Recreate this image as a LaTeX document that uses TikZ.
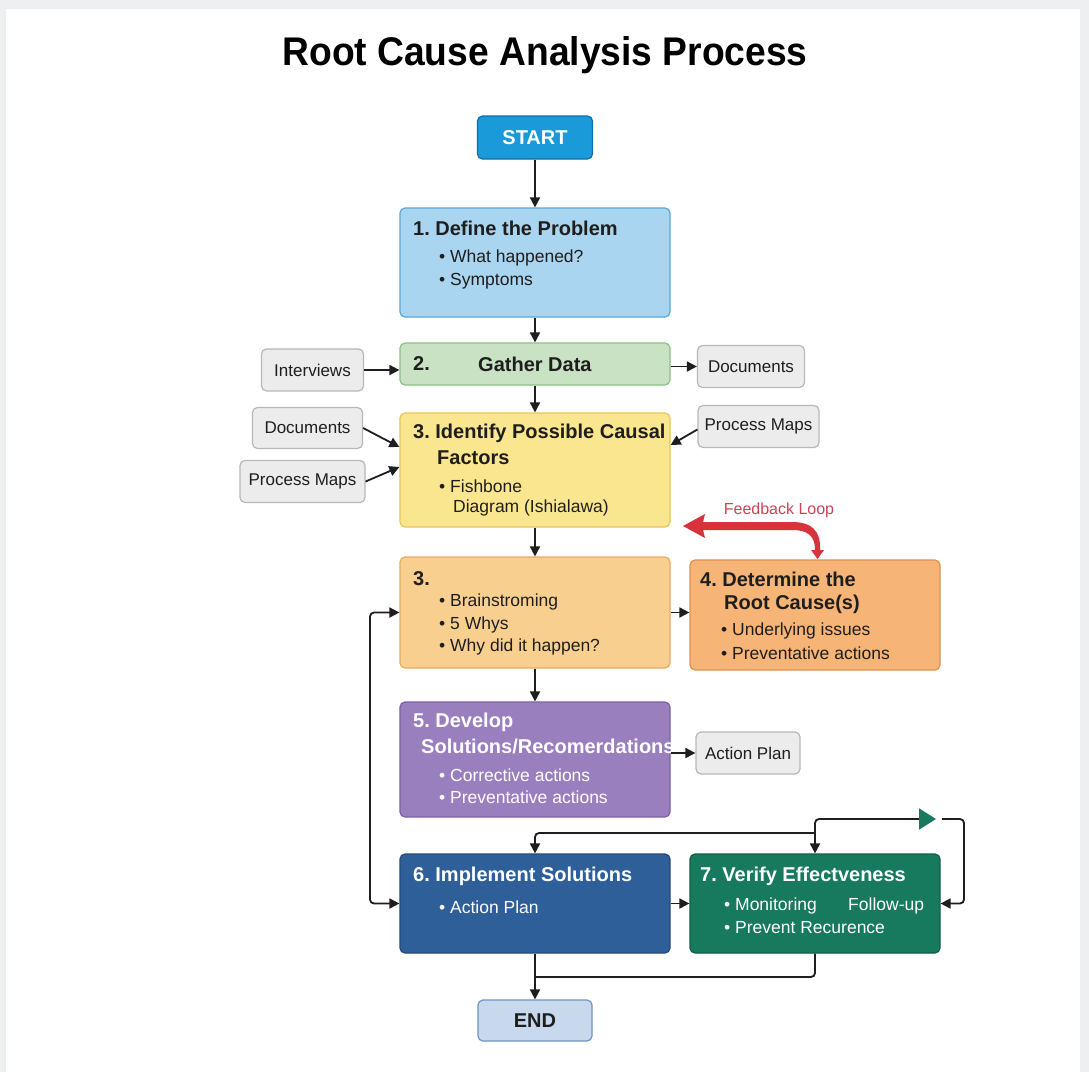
\documentclass[tikz,border=0pt]{standalone}
\usepackage{graphicx}
\usepackage{fontspec}
\setmainfont{Liberation Sans}
\usetikzlibrary{arrows.meta,calc}
\frenchspacing
\definecolor{bgray}{HTML}{EEEFF0}
\definecolor{ink}{HTML}{1E1E1E}
\definecolor{startf}{HTML}{1A9AD9}\definecolor{startd}{HTML}{0E6FA6}
\definecolor{c1f}{HTML}{A9D5F0}\definecolor{c1d}{HTML}{5BA7D8}
\definecolor{c2f}{HTML}{C8E2C3}\definecolor{c2d}{HTML}{8FBF8A}
\definecolor{c3f}{HTML}{FBE690}\definecolor{c3d}{HTML}{E6C65A}
\definecolor{c3bf}{HTML}{F9CF90}\definecolor{c3bd}{HTML}{E8AB5E}
\definecolor{c4f}{HTML}{F6B577}\definecolor{c4d}{HTML}{DF914E}
\definecolor{c5f}{HTML}{9A7FBF}\definecolor{c5d}{HTML}{7C5FA6}
\definecolor{c6f}{HTML}{2F5F99}\definecolor{c6d}{HTML}{23497A}
\definecolor{c7f}{HTML}{177A5E}\definecolor{c7d}{HTML}{0F5E47}
\definecolor{endf}{HTML}{C9D9ED}\definecolor{endd}{HTML}{6F94C4}
\definecolor{grayf}{HTML}{ECECEC}\definecolor{grayd}{HTML}{B8B8B8}
\definecolor{fbred}{HTML}{D8333B}\definecolor{fbtext}{HTML}{CC4455}
\tikzset{
  box/.style={draw, line width=1.2pt, rounded corners=5pt, inner sep=0pt},
  sidebox/.style={box, fill=grayf, draw=grayd, minimum height=42pt, font=\fontsize{17}{17}\selectfont, text=ink},
  ttl/.style={anchor=west, inner sep=0pt, font=\bfseries\fontsize{20}{20}\selectfont, text=ink},
  bul/.style={anchor=west, inner sep=0pt, font=\fontsize{17.5}{17.5}\selectfont, text=ink},
  tip/.style={Triangle[length=10pt,width=10pt]},
  conn/.style={draw=ink, line width=1.8pt, -{Triangle[length=10pt,width=10pt]}},
  plain/.style={draw=ink, line width=1.8pt}
}
\begin{document}
\begin{tikzpicture}[x=1pt,y=-1pt]
\fill[bgray] (0,0) rectangle (1089,1072);
\fill[white] (6,9) rectangle (1080,1072);
\useasboundingbox (0,0) rectangle (1089,1072);

\node[inner sep=0pt, text=black] (title) at (545,55) {\scalebox{0.93}[1]{\fontsize{40}{40}\selectfont\bfseries Root Cause Analysis Process}};

% main boxes
\node[box, fill=startf, draw=startd, minimum width=115pt, minimum height=43pt, text=white, font=\bfseries\fontsize{20}{20}\selectfont] (start) at (535,137.5) {START};
\node[box, fill=c1f, draw=c1d, minimum width=270pt, minimum height=109pt] (b1) at (535,262.5) {};
\node[box, fill=c2f, draw=c2d, minimum width=270pt, minimum height=42pt] (b2) at (535,364) {};
\node[box, fill=c3f, draw=c3d, minimum width=270pt, minimum height=114pt] (b3) at (535,470) {};
\node[box, fill=c3bf, draw=c3bd, minimum width=270pt, minimum height=111pt] (b3b) at (535,612.5) {};
\node[box, fill=c4f, draw=c4d, minimum width=250pt, minimum height=110pt] (b4) at (815,615) {};
\node[box, fill=c5f, draw=c5d, minimum width=270pt, minimum height=115pt] (b5) at (535,759.5) {};
\node[box, fill=c6f, draw=c6d, minimum width=270pt, minimum height=99pt] (b6) at (535,903.5) {};
\node[box, fill=c7f, draw=c7d, minimum width=250pt, minimum height=99pt] (b7) at (815,903.5) {};
\node[box, fill=endf, draw=endd, minimum width=114pt, minimum height=41pt, text=ink, font=\bfseries\fontsize{20}{20}\selectfont] (end) at (535,1020.5) {END};

% side boxes
\node[sidebox, minimum width=102pt] (int) at (312.5,370) {Interviews};
\node[sidebox, minimum width=107pt] (docR) at (751,366.5) {Documents};
\node[sidebox, minimum width=110pt, minimum height=41pt] (docL) at (307.5,428) {Documents};
\node[sidebox, minimum width=125pt] (pmL) at (302.5,481.5) {Process Maps};
\node[sidebox, minimum width=121pt] (pmR) at (758.5,426.5) {Process Maps};
\node[sidebox, minimum width=104pt] (ap) at (748,753) {Action Plan};

% texts
\node[ttl] (t1) at (413,228) {1. Define the Problem};
\node[bul] (t1a) at (439,258) {• What happened?};
\node[bul] (t1b) at (439,281) {• Symptoms};

\node[ttl] (t2a) at (413,364) {2.};
\node[ttl] (t2b) at (478,364) {Gather Data};

\node[ttl] (t3) at (413,433) {3. Identify Possible Causal};
\node[ttl] (t3b) at (437,458) {Factors};
\node[bul] (t3c) at (439,486) {• Fishbone};
\node[bul] (t3d) at (453,508) {Diagram (Ishialawa)};

\node[ttl] (t3x) at (413,579) {3.};
\node[bul] (t3xa) at (439,602) {• Brainstroming};
\node[bul] (t3xb) at (439,625) {• 5 Whys};
\node[bul] (t3xc) at (439,647) {• Why did it happen?};

\node[ttl] (t4) at (700,579) {4. Determine the};
\node[ttl] (t4b) at (724,604) {Root Cause(s)};
\node[bul] (t4c) at (721,631) {• Underlying issues};
\node[bul] (t4d) at (721,653) {• Preventative actions};

\node[ttl, text=white] (t5) at (413,722) {5. Develop};
\node[ttl, text=white] (t5b) at (421,746) {Solutions/Recomerdations};
\node[bul, text=white] (t5c) at (439,775) {• Corrective actions};
\node[bul, text=white] (t5d) at (439,797) {• Preventative actions};

\node[ttl, text=white] (t6) at (413,876) {6. Implement Solutions};
\node[bul, text=white] (t6b) at (439,907) {• Action Plan};

\node[ttl, text=white] (t7) at (700,876) {7. Verify Effectveness};
\node[bul, text=white] (t7b) at (724,906) {• Monitoring};
\node[bul, text=white] (t7c) at (848,906) {Follow-up};
\node[bul, text=white] (t7d) at (724,928) {• Prevent Recurence};

% main spine
\draw[conn] (start.south) -- (b1.north);
\draw[conn] (b1.south) -- (b2.north);
\draw[conn] (b2.south) -- (b3.north);
\draw[conn] (b3.south) -- (b3b.north);
\draw[conn] (b3b.south) -- (b5.north);
\draw[conn] (b6.south) -- (end.north);

% side arrows
\draw[conn] (int.east) -- (int.east -| b2.west);
\draw[conn] (docR.west -| b2.east) -- (docR.west);
\draw[conn] (docL.east) -- ([yshift=23pt]b3.west);
\draw[conn] (pmL.east) -- ([yshift=3pt]b3.west);
\draw[conn] ([yshift=-3pt]pmR.west) -- ([yshift=25pt]b3.east);
\draw[conn] (b3b.east) -- (b3b.east -| b4.west);
\draw[conn] (ap.west -| b5.east) -- (ap.west);
\draw[conn] (b6.east) -- (b7.west);

% left loop
\coordinate (lx) at (370,700);
\draw[conn, {Triangle[length=10pt,width=10pt]}-{Triangle[length=10pt,width=10pt]}, rounded corners=4pt] (b3b.west) -| (lx) |- (b6.west);

% top loop
\coordinate (j) at (815,833);
\coordinate (gtip) at (936,819);
\coordinate (g2) at (942,819);
\coordinate (rx) at (964,860);
\coordinate (jb) at (535,977);
\draw[conn, rounded corners=4pt] (j) -| (b6.north);
\draw[conn] (j) -- (b7.north);
\draw[plain, rounded corners=4pt, -{Triangle[length=17pt,width=21pt,color=c7f,fill=c7f]}] (j) |- (gtip);
\draw[conn, rounded corners=4pt] (g2) -| (rx) |- (b7.east);
\draw[plain, rounded corners=4pt] (b7.south) |- (jb);

% feedback loop
\fill[fbred] (703,522) -- (792,522) .. controls (812,522) and (821,531) .. (820,550)
  -- (824,550) -- (817.5,559) -- (811,550) -- (815,550)
  .. controls (815,536) and (808,530) .. (792,530) -- (703,530)
  -- (705,538) -- (683,526) -- (705,514) -- cycle;
\node[inner sep=0pt, text=fbtext, font=\fontsize{16}{16}\selectfont] (fbl) at (779,510) {Feedback Loop};
\end{tikzpicture}
\end{document}
